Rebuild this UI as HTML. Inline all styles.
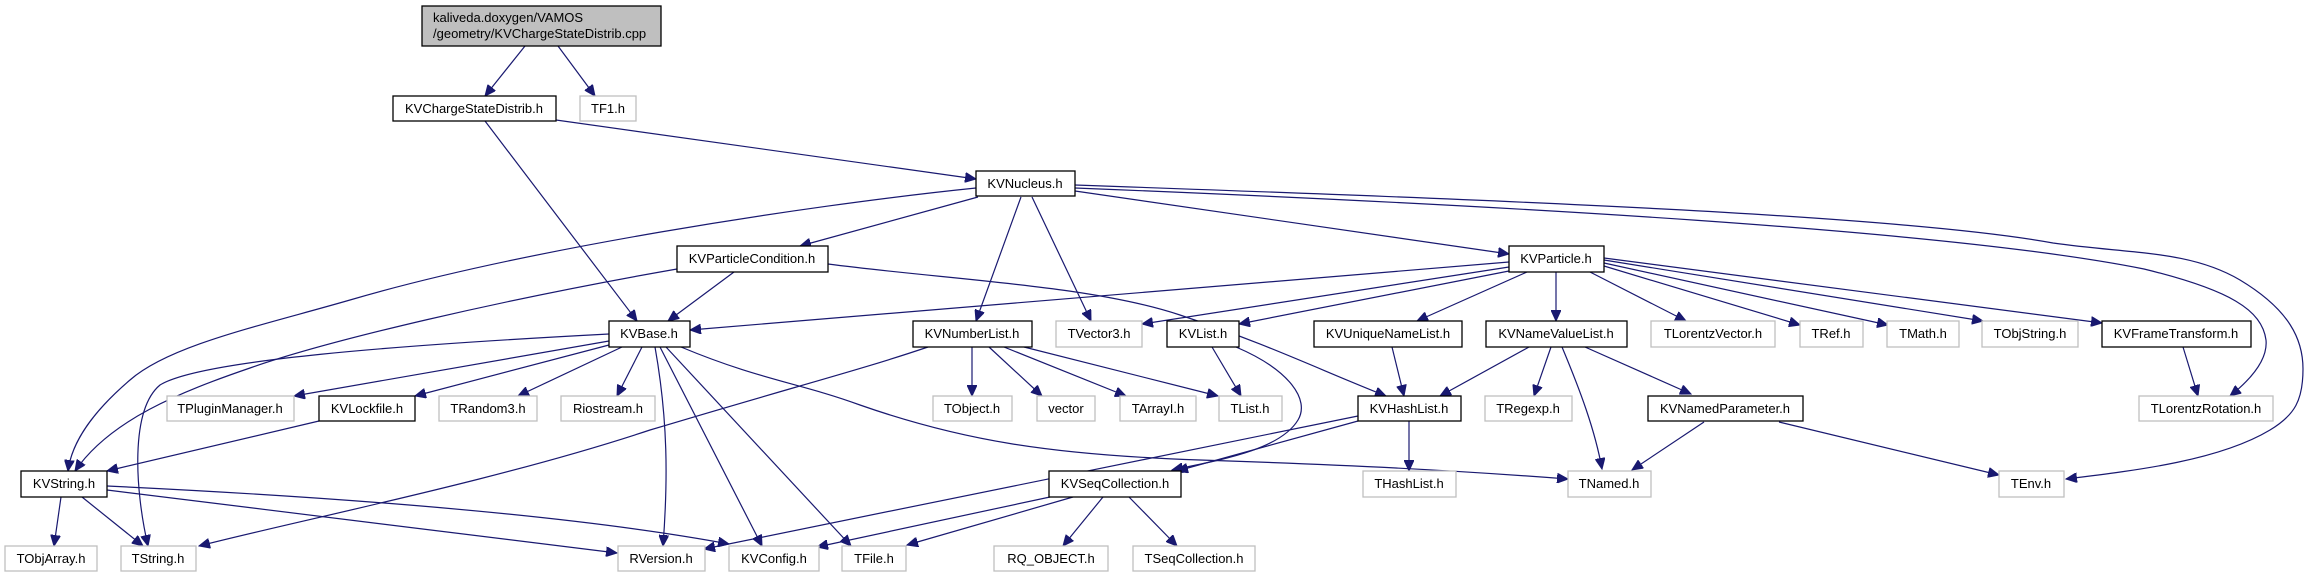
<!DOCTYPE html>
<html><head><meta charset="utf-8"><style>
html,body{margin:0;padding:0;background:#fff}
svg{display:block}
text{font-family:"Liberation Sans",sans-serif;font-size:13px;fill:#000;text-anchor:middle}
.b{fill:#fff;stroke:#000;stroke-width:1.3}
.g{fill:#fff;stroke:#bfbfbf;stroke-width:1.3}
.e{fill:none;stroke:#191970;stroke-width:1.2;marker-end:url(#a)}
</style></head><body>
<svg width="2306" height="575" viewBox="0 0 2306 575" xmlns="http://www.w3.org/2000/svg">
<defs><marker id="a" markerUnits="userSpaceOnUse" markerWidth="12" markerHeight="10" refX="11" refY="5" orient="auto"><path d="M0,0 L11,5 L0,10 z" fill="#191970" stroke="#191970"/></marker></defs>
<g>
<path class="e" d="M525,46 L485,96"/>
<path class="e" d="M558,46 L595,96"/>
<path class="e" d="M556,120 L976,179"/>
<path class="e" d="M485,121 L637,321"/>
<path class="e" d="M976,188 C800,206 520,250 350,300 C260,326 170,345 130,380 C95,410 72,440 68,471"/>
<path class="e" d="M978,197 L800,246"/>
<path class="e" d="M1021,197 L976,321"/>
<path class="e" d="M1032,197 L1091,321"/>
<path class="e" d="M1075,191 L1509,254"/>
<path class="e" d="M1075,185 C1500,200 1900,215 2053,243 C2130,254 2189,250 2240,280 C2290,310 2303,340 2303,369 C2303,400 2295,415 2270,430 C2220,460 2140,470 2066,479"/>
<path class="e" d="M1075,188 C1500,205 1950,230 2144,269 C2230,290 2262,310 2266,340 C2268,360 2250,380 2230,396"/>
<path class="e" d="M734,272 L668,321"/>
<path class="e" d="M677,269 C500,300 330,340 250,368 C180,392 110,420 75,471"/>
<path class="e" d="M828,264 C950,280 1090,285 1180,315 C1270,345 1320,370 1386,396"/>
<path class="e" d="M1509,262 L690,330"/>
<path class="e" d="M1509,267 L1142,324"/>
<path class="e" d="M1509,271 L1239,324"/>
<path class="e" d="M1527,272 L1417,321"/>
<path class="e" d="M1556,272 L1556,321"/>
<path class="e" d="M1590,272 L1686,321"/>
<path class="e" d="M1604,266 L1800,325"/>
<path class="e" d="M1604,263 L1888,325"/>
<path class="e" d="M1604,260 L1983,321"/>
<path class="e" d="M1604,258 L2102,323"/>
<path class="e" d="M2183,347 L2198,396"/>
<path class="e" d="M609,341 L294,396"/>
<path class="e" d="M609,345 L415,396"/>
<path class="e" d="M622,347 L518,396"/>
<path class="e" d="M642,347 L617,396"/>
<path class="e" d="M609,334 C400,345 200,360 160,385 C130,410 135,490 148,546"/>
<path class="e" d="M655,347 C668,420 668,480 663,546"/>
<path class="e" d="M660,347 L762,546"/>
<path class="e" d="M666,347 L851,546"/>
<path class="e" d="M681,347 C760,380 800,383 860,405 C960,440 1050,455 1200,460 C1350,465 1450,470 1568,479"/>
<path class="e" d="M319,421 L107,471"/>
<path class="e" d="M61,497 L54,546"/>
<path class="e" d="M82,497 L143,546"/>
<path class="e" d="M107,490 L617,553"/>
<path class="e" d="M107,486 C400,500 600,520 729,544"/>
<path class="e" d="M928,347 C860,370 800,385 650,430 C500,480 300,520 199,546"/>
<path class="e" d="M972,347 L972,396"/>
<path class="e" d="M989,347 L1042,396"/>
<path class="e" d="M1004,347 L1126,396"/>
<path class="e" d="M1024,347 L1218,396"/>
<path class="e" d="M1212,347 L1241,396"/>
<path class="e" d="M1236,347 C1290,370 1310,400 1298,420 C1280,450 1220,460 1172,470"/>
<path class="e" d="M1392,347 L1404,396"/>
<path class="e" d="M1529,347 L1440,396"/>
<path class="e" d="M1551,347 L1534,396"/>
<path class="e" d="M1562,347 C1580,390 1595,430 1602,469"/>
<path class="e" d="M1585,347 L1691,394"/>
<path class="e" d="M1409,421 L1409,471"/>
<path class="e" d="M1358,421 L1177,471"/>
<path class="e" d="M1358,416 C1100,470 900,510 704,549"/>
<path class="e" d="M1050,497 L817,547"/>
<path class="e" d="M1073,497 L907,545"/>
<path class="e" d="M1103,497 L1063,546"/>
<path class="e" d="M1129,497 L1177,546"/>
<path class="e" d="M1704,422 L1632,470"/>
<path class="e" d="M1779,422 L1999,475"/>
</g>
<g>
<rect x="422" y="6" width="239" height="40" fill="#bfbfbf" stroke="#000" stroke-width="1.3"/>
<text x="433" y="22" style="text-anchor:start">kaliveda.doxygen/VAMOS</text>
<text x="433" y="38" style="text-anchor:start">/geometry/KVChargeStateDistrib.cpp</text>

<rect class="b" x="393" y="96" width="163" height="25"/><text x="474" y="113">KVChargeStateDistrib.h</text>
<rect class="g" x="580" y="96" width="56" height="25"/><text x="608" y="113">TF1.h</text>

<rect class="b" x="976" y="171" width="99" height="25"/><text x="1025" y="188">KVNucleus.h</text>

<rect class="b" x="677" y="246" width="151" height="26"/><text x="752" y="263">KVParticleCondition.h</text>
<rect class="b" x="1509" y="246" width="95" height="26"/><text x="1556" y="263">KVParticle.h</text>

<rect class="b" x="609" y="321" width="81" height="26"/><text x="649" y="338">KVBase.h</text>
<rect class="b" x="913" y="321" width="119" height="26"/><text x="972" y="338">KVNumberList.h</text>
<rect class="g" x="1056" y="321" width="86" height="26"/><text x="1099" y="338">TVector3.h</text>
<rect class="b" x="1167" y="321" width="72" height="26"/><text x="1203" y="338">KVList.h</text>
<rect class="b" x="1314" y="321" width="148" height="26"/><text x="1388" y="338">KVUniqueNameList.h</text>
<rect class="b" x="1486" y="321" width="141" height="26"/><text x="1556" y="338">KVNameValueList.h</text>
<rect class="g" x="1651" y="321" width="124" height="26"/><text x="1713" y="338">TLorentzVector.h</text>
<rect class="g" x="1800" y="321" width="63" height="26"/><text x="1831" y="338">TRef.h</text>
<rect class="g" x="1887" y="321" width="72" height="26"/><text x="1923" y="338">TMath.h</text>
<rect class="g" x="1982" y="321" width="96" height="26"/><text x="2030" y="338">TObjString.h</text>
<rect class="b" x="2102" y="321" width="149" height="26"/><text x="2176" y="338">KVFrameTransform.h</text>

<rect class="g" x="167" y="396" width="127" height="25"/><text x="230" y="413">TPluginManager.h</text>
<rect class="b" x="319" y="396" width="96" height="25"/><text x="367" y="413">KVLockfile.h</text>
<rect class="g" x="439" y="396" width="98" height="25"/><text x="488" y="413">TRandom3.h</text>
<rect class="g" x="561" y="396" width="94" height="25"/><text x="608" y="413">Riostream.h</text>
<rect class="g" x="933" y="396" width="79" height="25"/><text x="972" y="413">TObject.h</text>
<rect class="g" x="1037" y="396" width="58" height="25"/><text x="1066" y="413">vector</text>
<rect class="g" x="1120" y="396" width="76" height="25"/><text x="1158" y="413">TArrayI.h</text>
<rect class="g" x="1219" y="396" width="63" height="25"/><text x="1250" y="413">TList.h</text>
<rect class="b" x="1358" y="396" width="103" height="25"/><text x="1409" y="413">KVHashList.h</text>
<rect class="g" x="1485" y="396" width="87" height="25"/><text x="1528" y="413">TRegexp.h</text>
<rect class="b" x="1648" y="396" width="155" height="25"/><text x="1725" y="413">KVNamedParameter.h</text>
<rect class="g" x="2139" y="396" width="134" height="25"/><text x="2206" y="413">TLorentzRotation.h</text>

<rect class="b" x="21" y="471" width="86" height="26"/><text x="64" y="488">KVString.h</text>
<rect class="b" x="1049" y="471" width="132" height="26"/><text x="1115" y="488">KVSeqCollection.h</text>
<rect class="g" x="1363" y="471" width="93" height="26"/><text x="1409" y="488">THashList.h</text>
<rect class="g" x="1568" y="471" width="83" height="26"/><text x="1609" y="488">TNamed.h</text>
<rect class="g" x="1999" y="471" width="65" height="26"/><text x="2031" y="488">TEnv.h</text>

<rect class="g" x="5" y="546" width="92" height="25"/><text x="51" y="563">TObjArray.h</text>
<rect class="g" x="121" y="546" width="75" height="25"/><text x="158" y="563">TString.h</text>
<rect class="g" x="618" y="546" width="87" height="25"/><text x="661" y="563">RVersion.h</text>
<rect class="g" x="729" y="546" width="90" height="25"/><text x="774" y="563">KVConfig.h</text>
<rect class="g" x="842" y="546" width="64" height="25"/><text x="874" y="563">TFile.h</text>
<rect class="g" x="994" y="546" width="114" height="25"/><text x="1051" y="563">RQ_OBJECT.h</text>
<rect class="g" x="1133" y="546" width="122" height="25"/><text x="1194" y="563">TSeqCollection.h</text>
</g>
</svg>
</body></html>
